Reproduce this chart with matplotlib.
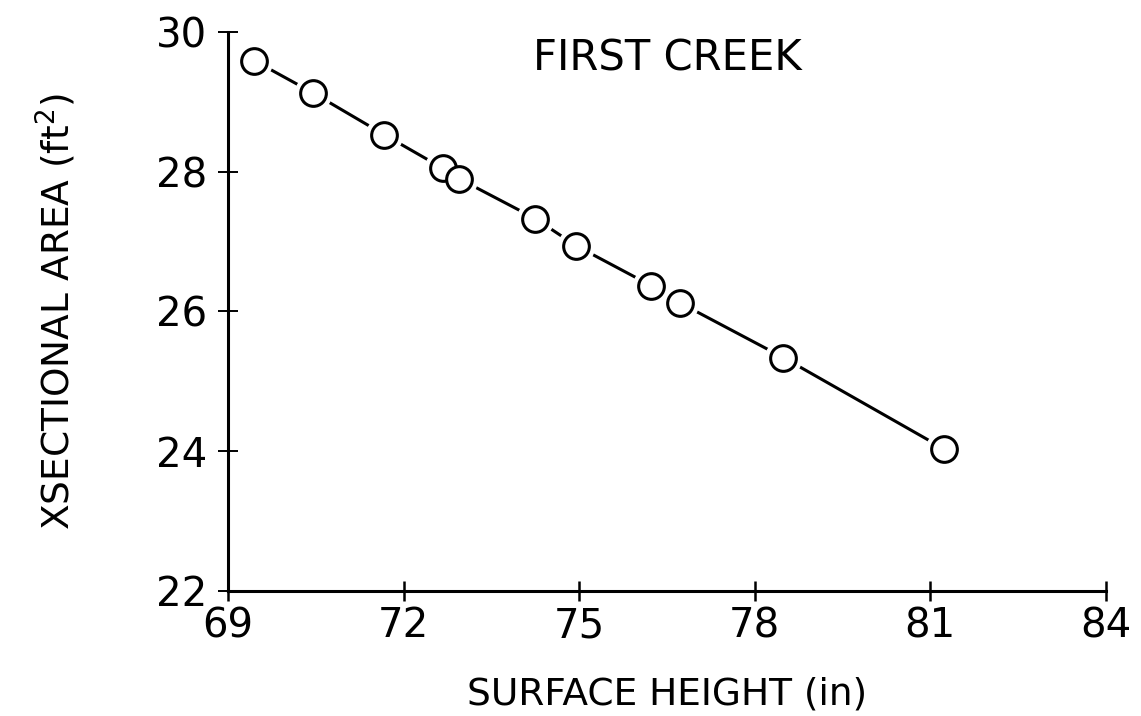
import matplotlib
matplotlib.use('Agg')
import matplotlib.pyplot as plt

# surface height (in) vs cross-sectional area (ft^2), First Creek
height = [69.45, 70.45, 71.67, 72.67, 72.95, 74.25, 74.95, 76.23, 76.73, 78.49, 81.24]
area = [29.59, 29.13, 28.53, 28.05, 27.90, 27.33, 26.94, 26.37, 26.12, 25.34, 24.03]
xticks = [69, 72, 75, 78, 81, 84]
yticks = [22, 24, 26, 28, 30]

plt.rcParams['font.family'] = ['DejaVu Sans']
plt.rcParams['mathtext.default'] = 'regular'

fig = plt.figure(figsize=(11.41, 7.16), dpi=100)
ax = fig.add_axes([0.1998, 0.1746, 0.7695, 0.7807])

ax.plot(height, area, color='black', lw=2.2, zorder=1)
# white halo so the line stops short of each circle
ax.plot(height, area, ls='none', marker='o', ms=26, mfc='white', mec='white', zorder=2)
ax.plot(height, area, ls='none', marker='o', ms=18.5, mfc='white', mec='black', mew=2.2, zorder=3)

ax.set_xlim(69, 84)
ax.set_ylim(22, 30)
ax.set_xticks(xticks)
ax.set_yticks(yticks)
ax.spines['top'].set_visible(False)
ax.spines['right'].set_visible(False)
for s in ['left', 'bottom']:
    ax.spines[s].set_linewidth(2.2)
ax.tick_params(axis='x', direction='inout', length=14, width=1.8, labelsize=29, pad=4)
ax.tick_params(axis='y', direction='inout', length=14, width=1.4, labelsize=29, pad=8)

ax.set_xlabel('SURFACE HEIGHT (in)', fontsize=27, labelpad=22)
ax.set_ylabel('XSECTIONAL AREA (ft$^{2}$)', fontsize=27, labelpad=56)
ax.text(0.5, 0.953, 'FIRST CREEK', transform=ax.transAxes, fontsize=30,
        ha='center', va='center')

fig.savefig('out.png', dpi=100)
